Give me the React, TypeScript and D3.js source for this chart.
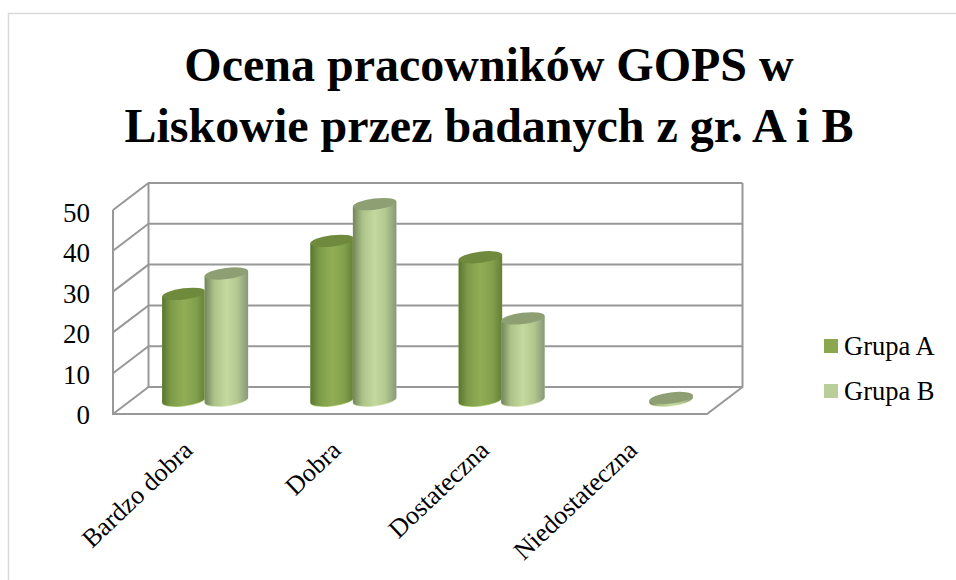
import React from "react";
import * as d3 from "d3";

const titleLines = ["Ocena pracowników GOPS w", "Liskowie przez badanych z gr. A i B"];
const categories = ["Bardzo dobra", "Dobra", "Dostateczna", "Niedostateczna"];
const grupaA = [26, 39, 35, 0];
const grupaB = [31, 48, 20, 0.5];
const yTicks = [0, 10, 20, 30, 40, 50];
const seriesNames = ["Grupa A", "Grupa B"];

const W = 956, H = 580;
const depthX = -35.5, depthY = 27;
const yBack = d3.scaleLinear().domain([0, 50]).range([387, 183]);
const yLabel = d3.scaleLinear().domain([0, 50]).range([424, 222]);
const xBack = [148.5, 742.5];
const xBand = d3.scaleBand<string>().domain(categories).range([131, 724]);
const barW = 43.5;
const GRID = "#989898";
const SERIF = "'Liberation Serif','Times New Roman',serif";
const deg = -7;
const theta = (deg * Math.PI) / 180;
const ry = 5.6;
const rx = Math.sqrt((barW / 2) ** 2 - (ry * Math.sin(theta)) ** 2) / Math.cos(theta);
const offY = ((rx * rx - ry * ry) * Math.sin(theta) * Math.cos(theta)) / (barW / 2);

function cylinder(cx: number, top: number, base: number) {
  const l = cx - barW / 2, r = cx + barW / 2;
  return `M${l},${top - offY}L${l},${base - offY}A${rx},${ry} ${deg} 0 0 ${r},${base + offY}L${r},${top + offY}Z`;
}

function Bar({ cx, v, idx }: { cx: number; v: number; idx: number }) {
  const base = yBack(0) + 13;
  const top = yBack(v) + 13;
  const capFill = idx === 0 ? "#6f8a3d" : "#8ea073";
  const lit = idx === 0 ? "#b3cf7c" : "#dcebc0";
  return (
    <g>
      <path d={cylinder(cx, top, base + 0.8)} fill={lit} />
      <path d={cylinder(cx, top, base)} fill={`url(#grad${idx})`} />
      <ellipse cx={cx} cy={top} rx={rx} ry={ry} transform={`rotate(${deg} ${cx} ${top})`} fill={capFill} />
    </g>
  );
}

export default function App() {
  const step = xBand.bandwidth();
  return (
    <svg width={W} height={H} style={{ position: "absolute", left: 0, top: 0, background: "#fff" }}>
      <defs>
        <linearGradient id="grad0">
          <stop offset="0" stopColor="#5a7631" />
          <stop offset="0.2" stopColor="#7d9a48" />
          <stop offset="0.5" stopColor="#91ae56" />
          <stop offset="0.78" stopColor="#82a04c" />
          <stop offset="1" stopColor="#637f36" />
        </linearGradient>
        <linearGradient id="grad1">
          <stop offset="0" stopColor="#72845c" />
          <stop offset="0.22" stopColor="#acc288" />
          <stop offset="0.5" stopColor="#c3d99e" />
          <stop offset="0.75" stopColor="#b3c88f" />
          <stop offset="1" stopColor="#86987a" />
        </linearGradient>
      </defs>
      <path d={`M${W},13.5H8.5V${H}`} fill="none" stroke="#d9d9d9" strokeWidth={1.5} />
      {titleLines.map((t, i) => (
        <text key={t} x={489} y={81 + i * 61} textAnchor="middle" fontFamily={SERIF} fontWeight="bold" fontSize={48} fill="#000">{t}</text>
      ))}
      <g stroke={GRID} strokeWidth={2} fill="none">
        {yTicks.map((t) => (
          <path key={t} d={`M${xBack[1]},${yBack(t)}H${xBack[0]}L${xBack[0] + depthX},${yBack(t) + depthY}`} />
        ))}
        <path d={`M${xBack[0]},${yBack(50)}V${yBack(0)}`} />
        <path d={`M${xBack[1]},${yBack(50)}V${yBack(0)}L${xBack[1] + depthX},${yBack(0) + depthY}H${xBack[0] + depthX}V${yBack(50) + depthY}`} />
      </g>
      {yTicks.map((t) => (
        <text key={t} x={90} y={yLabel(t)} textAnchor="end" fontFamily={SERIF} fontSize={27} fill="#000">{t}</text>
      ))}
      {categories.map((c, i) => {
        const cx = xBand(c)! + step / 2;
        return (
          <g key={c}>
            {grupaA[i] > 0 && <Bar cx={cx - barW / 2 + 0.5} v={grupaA[i]} idx={0} />}
            {grupaB[i] > 0 && <Bar cx={cx + barW / 2 - 0.5} v={grupaB[i]} idx={1} />}
          </g>
        );
      })}
      {categories.map((c) => {
        const x = xBand(c)! + step / 2 - 11;
        return (
          <text key={c} transform={`translate(${x},452) rotate(-43.5)`} textAnchor="end" fontFamily={SERIF} fontSize={26} fill="#000">{c}</text>
        );
      })}
      {seriesNames.map((s, i) => (
        <g key={s}>
          <rect x={824} y={339 + i * 45} width={14} height={14} fill={i === 0 ? "#8aa64f" : "#b9ce99"} />
          <text x={844} y={355 + i * 44.5} fontFamily={SERIF} fontSize={26.5} fill="#000">{s}</text>
        </g>
      ))}
    </svg>
  );
}
